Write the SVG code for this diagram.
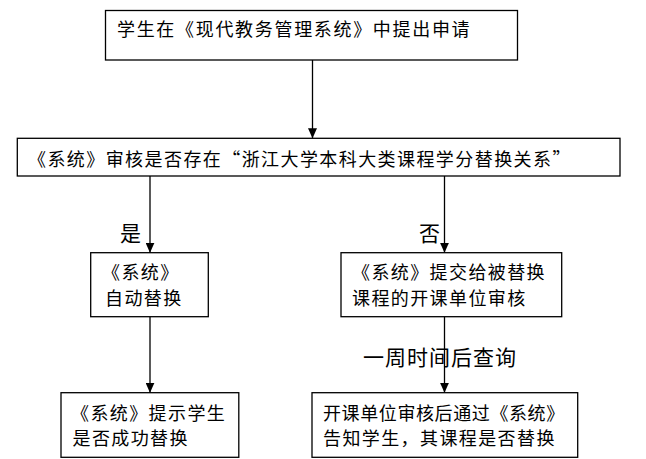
<svg xmlns="http://www.w3.org/2000/svg" width="646" height="459" viewBox="0 0 646 459">
  <style>
    .box { fill: #ffffff; stroke: #000000; stroke-width: 1.3; }
    .t { font-family: "Noto Sans CJK SC", "Liberation Serif", sans-serif; font-size: 18px; fill: #000000; letter-spacing: 1.4px; }
    .tn { letter-spacing: 0.6px; }
    .lbl { font-family: "Noto Sans CJK SC", "Liberation Serif", sans-serif; font-size: 21px; fill: #000000; letter-spacing: 1px; }
    .conn { stroke: #000000; stroke-width: 1.3; fill: none; marker-end: url(#arrow); }
  </style>
  <defs>
    <marker id="arrow" markerUnits="userSpaceOnUse" markerWidth="10" markerHeight="9" refX="10" refY="4.5" orient="auto" viewBox="0 0 10 9">
      <path d="M0,0 L10,4.5 L0,9 Z" fill="#000000"/>
    </marker>
  </defs>
  <rect width="646" height="459" fill="#ffffff"/>

  <g id="connectors">
    <line class="conn" x1="312.5" y1="60" x2="312.5" y2="138.3"/>
    <line class="conn" x1="150" y1="176" x2="150" y2="252.7"/>
    <line class="conn" x1="444.5" y1="176" x2="444.5" y2="252.7"/>
    <line class="conn" x1="150" y1="316.7" x2="150" y2="392.7"/>
    <line class="conn" x1="444.5" y1="316.7" x2="444.5" y2="392.7"/>
    <text class="lbl" x="120" y="241">是</text>
    <text class="lbl" x="419" y="241">否</text>
    <text class="lbl" x="363" y="365">一周时间后查询</text>
  </g>

  <g id="n1">
    <rect class="box" x="105.5" y="10.5" width="412" height="49.5"/>
    <text class="t" x="117" y="36" textLength="354" lengthAdjust="spacing">学生在《现代教务管理系统》中提出申请</text>
  </g>

  <g id="n2">
    <rect class="box" x="17.3" y="138.3" width="602.7" height="37.7"/>
    <text class="t tn" x="28" y="166" textLength="543" lengthAdjust="spacing">《系统》审核是否存在“浙江大学本科大类课程学分替换关系”</text>
  </g>

  <g id="n3">
    <rect class="box" x="90.7" y="252.7" width="117.6" height="64"/>
    <text class="t" x="102" y="279">《系统》</text>
    <text class="t" x="105" y="305">自动替换</text>
  </g>

  <g id="n4">
    <rect class="box" x="341" y="252.7" width="220.7" height="64"/>
    <text class="t" x="352" y="279">《系统》提交给被替换</text>
    <text class="t" x="352" y="305">课程的开课单位审核</text>
  </g>

  <g id="n5">
    <rect class="box" x="61" y="392.7" width="177.8" height="64.6"/>
    <text class="t" x="71" y="420">《系统》提示学生</text>
    <text class="t" x="72.5" y="445">是否成功替换</text>
  </g>

  <g id="n6">
    <rect class="box" x="312" y="392.7" width="265.7" height="64.6"/>
    <text class="t tn" x="323" y="420">开课单位审核后通过《系统》</text>
    <text class="t" x="323" y="445">告知学生，其课程是否替换</text>
  </g>
</svg>
